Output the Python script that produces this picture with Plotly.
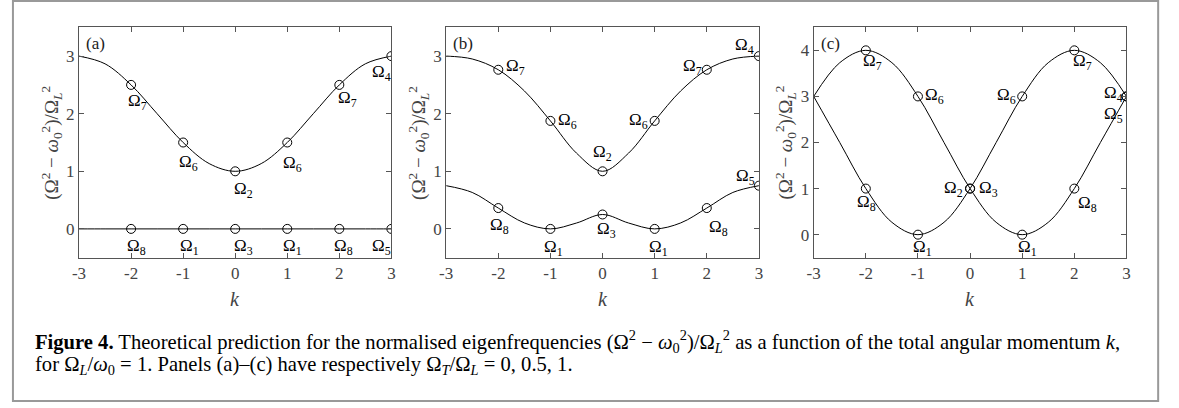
import plotly.graph_objects as go

# ---------------- data ----------------
k_curve = [-3, -2.5, -2, -1.5, -1, -0.5, 0, 0.5, 1, 1.5, 2, 2.5, 3]

a_upper = [3, 2.866, 2.5, 2, 1.5, 1.134, 1, 1.134, 1.5, 2, 2.5, 2.866, 3]
a_lower = [0, 0, 0, 0, 0, 0, 0, 0, 0, 0, 0, 0, 0]

b_upper = [3, 2.95, 2.763, 2.396, 1.875, 1.316, 1, 1.316, 1.875, 2.396, 2.763, 2.95, 3]
b_lower = [0.75, 0.633, 0.362, 0.104, 0, 0.102, 0.25, 0.102, 0, 0.104, 0.362, 0.633, 0.75]

c_first = [3, 3.732, 4, 3.732, 3, 2, 1, 0.268, 0, 0.268, 1, 2, 3]
c_second = [3, 2, 1, 0.268, 0, 0.268, 1, 2, 3, 3.732, 4, 3.732, 3]

k_points = [-2, -1, 0, 1, 2, 3]
a_upper_pts = [2.5, 1.5, 1, 1.5, 2.5, 3]
a_lower_pts = [0, 0, 0, 0, 0, 0]
b_upper_pts = [2.763, 1.875, 1, 1.875, 2.763, 3]
b_lower_pts = [0.362, 0, 0.25, 0, 0.362, 0.75]
c_first_pts = [4, 3, 1, 0, 1, 3]
c_second_pts = [1, 0, 1, 3, 4, 3]

a_upper_names = ["7", "6", "2", "6", "7", "4"]
a_lower_names = ["8", "1", "3", "1", "8", "5"]
b_upper_names = ["7", "6", "2", "6", "7", "4"]
b_lower_names = ["8", "1", "3", "1", "8", "5"]
c_first_names = ["7", "6", "2", "1", "8", "4"]
c_second_names = ["8", "1", "3", "6", "7", "5"]

x_ticks = [-3, -2, -1, 0, 1, 2, 3]
x_tick_text = ["-3", "-2", "-1", "0", "1", "2", "3"]
y_ticks_ab = [0, 1, 2, 3]
y_ticks_c = [0, 1, 2, 3, 4]
panel_tags = ["(a)", "(b)", "(c)"]

# ---------------- layout helpers ----------------
W, H = 1179, 408
FONT = "Liberation Serif"
AXC = "#555555"


def px(x):
    return x / W


def py(y):
    return 1 - y / H


PLOT_TOP, PLOT_BOT = 27.3, 257.7
panels_px = [(72.7, 388.0), (443.3, 759.0), (814.3, 1130.0)]

fig = go.Figure()

# label offsets in screen pixels (dx right, dy down)
off_a_up = [(6, 17), (5, 20), (8, 19), (5, 21), (8, 14), (-10, 17)]
off_a_lo = [(5, 18), (6, 18), (8, 18), (5, 18), (4, 18), (-10, 18)]
off_b_up = [(17, -3), (17, 0), (0, -18), (-16, 0), (-14, -3), (-14, -10)]
off_b_lo = [(1, 18), (3, 19), (4, 16), (4, 19), (12, 20), (-13, -9)]
off_c_1 = [(7, 12), (17, 0), (-17, 0), (5, 13), (13, 15), (-13, -2)]
off_c_2 = [(1, 14), (5, 13), (18, 0), (-16, 0), (8, 12), (-13, 19)]

panels = [
    dict(curves=[a_upper, a_lower], pts=[a_upper_pts, a_lower_pts],
         names=[a_upper_names, a_lower_names], offs=[off_a_up, off_a_lo],
         yr=[-0.5, 3.5], yt=y_ticks_ab),
    dict(curves=[b_upper, b_lower], pts=[b_upper_pts, b_lower_pts],
         names=[b_upper_names, b_lower_names], offs=[off_b_up, off_b_lo],
         yr=[-0.5, 3.5], yt=y_ticks_ab),
    dict(curves=[c_first, c_second], pts=[c_first_pts, c_second_pts],
         names=[c_first_names, c_second_names], offs=[off_c_1, off_c_2],
         yr=[-0.5, 4.5], yt=y_ticks_c),
]

annotations = []
layout_axes = {}
for i, p in enumerate(panels):
    n = "" if i == 0 else str(i + 1)
    xa, ya = "x" + n, "y" + n
    for cv in p["curves"]:
        fig.add_trace(go.Scatter(x=k_curve, y=cv, mode="lines", xaxis=xa, yaxis=ya,
                                 line=dict(color="black", width=1, shape="spline", smoothing=1.0),
                                 showlegend=False, hoverinfo="skip"))
    for pts in p["pts"]:
        fig.add_trace(go.Scatter(x=k_points, y=pts, mode="markers", xaxis=xa, yaxis=ya,
                                 marker=dict(symbol="circle-open", size=9, color="black",
                                             line=dict(width=1, color="black")),
                                 showlegend=False))
    for pts, names, offs in zip(p["pts"], p["names"], p["offs"]):
        for kx, vy, nm, (dx, dy) in zip(k_points, pts, names, offs):
            annotations.append(dict(x=kx, y=vy, xref=xa, yref=ya, text="Ω<sub>" + nm + "</sub>",
                                    showarrow=False, xanchor="center", yanchor="middle",
                                    xshift=dx, yshift=-dy,
                                    font=dict(family=FONT, size=17, color="black")))
    x0, x1 = panels_px[i]
    layout_axes["xaxis" + n] = dict(
        domain=[px(x0), px(x1)], range=[-3, 3], anchor=ya,
        tickvals=x_ticks, ticktext=x_tick_text, ticks="inside", ticklen=5,
        tickcolor=AXC, showline=True, linecolor=AXC, linewidth=1, mirror="ticks",
        showgrid=False, zeroline=False, tickfont=dict(family=FONT, size=17, color="#444444"))
    layout_axes["yaxis" + n] = dict(
        domain=[py(PLOT_BOT), py(PLOT_TOP)], range=p["yr"], anchor=xa,
        tickvals=p["yt"], ticks="inside", ticklen=5, tickcolor=AXC,
        showline=True, linecolor=AXC, linewidth=1, mirror="ticks",
        showgrid=False, zeroline=False, tickfont=dict(family=FONT, size=17, color="#444444"))
    # panel tag
    annotations.append(dict(x=px(x0 + 5), y=py(43.5), xref="paper", yref="paper",
                            text=panel_tags[i], showarrow=False, xanchor="left", yanchor="middle",
                            font=dict(family=FONT, size=17, color="#222222")))
    # x title
    annotations.append(dict(x=px((x0 + x1) / 2), y=py(299), xref="paper", yref="paper",
                            text="<i>k</i>", showarrow=False, xanchor="center", yanchor="middle",
                            font=dict(family=FONT, size=20, color="#444444")))
    # y title
    annotations.append(dict(x=px(x0 - 28), y=py((PLOT_TOP + PLOT_BOT) / 2), xref="paper", yref="paper",
                            text="(Ω<sup>2</sup> − <i>ω</i><sub>0</sub><sup>2</sup>)/Ω<sub><i>L</i></sub><sup>2</sup>",
                            textangle=-90, showarrow=False, xanchor="center", yanchor="middle",
                            font=dict(family=FONT, size=19, color="#444444")))

# caption
annotations.append(dict(
    x=px(26), y=py(341), xref="paper", yref="paper", showarrow=False,
    xanchor="left", yanchor="middle", align="left",
    text="<b>Figure 4.</b> Theoretical prediction for the normalised eigenfrequencies "
         "(Ω<sup>2</sup> − <i>ω</i><sub>0</sub><sup>2</sup>)/Ω<sub><i>L</i></sub><sup>2</sup> "
         "as a function of the total angular momentum <i>k</i>,",
    font=dict(family=FONT, size=20.6, color="black")))
annotations.append(dict(
    x=px(26), y=py(365), xref="paper", yref="paper", showarrow=False,
    xanchor="left", yanchor="middle", align="left",
    text="for Ω<sub><i>L</i></sub>/<i>ω</i><sub>0</sub> = 1. Panels (a)–(c) have respectively "
         "Ω<sub><i>T</i></sub>/Ω<sub><i>L</i></sub> = 0, 0.5, 1.",
    font=dict(family=FONT, size=20.6, color="black")))

fig.update_layout(
    width=W, height=H, margin=dict(l=0, r=0, t=0, b=0),
    paper_bgcolor="white", plot_bgcolor="white",
    annotations=annotations,
    shapes=[dict(type="rect", xref="paper", yref="paper",
                 x0=px(6), x1=px(1162), y0=py(401), y1=py(1),
                 line=dict(color="#999999", width=2))],
    **layout_axes,
)

fig.write_html("out.html", config={"displayModeBar": False},
               post_script="document.body.style.margin='0px';")
